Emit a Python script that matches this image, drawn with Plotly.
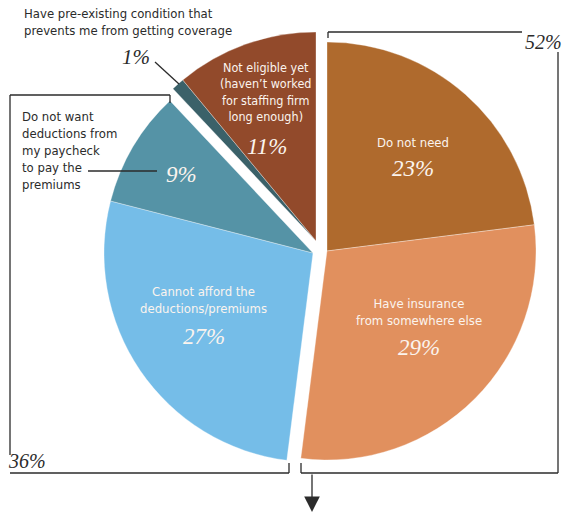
import plotly.graph_objects as go

# Reasons for not taking staffing-firm health coverage (share of respondents, %)
categories = [
    "Do not need",
    "Have insurance<br>from somewhere else",
    "Cannot afford the<br>deductions/premiums",
    "Do not want deductions",
    "Have pre-existing condition",
    "Not eligible yet<br>(haven\u2019t worked<br>for staffing firm<br>long enough)",
]
values = [23, 29, 27, 9, 1, 11]
colors = ["#AF6A2D", "#E1905E", "#75BDE8", "#5593A6", "#3B6169", "#924A2B"]

# slice groups that are pulled apart from each other
groups = [[0, 1], [2, 3], [4, 5]]
group_totals = [sum(values[i] for i in g) for g in groups]

W, H = 569, 513
SANS = "Liberation Sans Narrow, DejaVu Sans Condensed, Arial Narrow, sans-serif"
SERIF = "Liberation Serif, Times New Roman, serif"
INK = "#2b2b2b"
TXT = "#FBF4EE"


def px(x):
    return x / W


def py(y):
    return 1 - y / H


# pie centre (pixels) and radius for each pulled-apart group
centres = [(327, 251), (313, 253), (316, 241)]
R = 209

fig = go.Figure()
for g, (cx, cy) in zip(groups, centres):
    fill = [colors[i] if i in g else "rgba(0,0,0,0)" for i in range(len(values))]
    lw = [0.6 if i in g else 0 for i in range(len(values))]
    fig.add_trace(go.Pie(
        values=values,
        labels=categories,
        sort=False,
        direction="clockwise",
        rotation=0,
        marker=dict(colors=fill, line=dict(color="rgba(255,255,255,0.55)", width=lw)),
        textinfo="none",
        hoverinfo="skip",
        showlegend=False,
        domain=dict(x=[px(cx - R), px(cx + R)], y=[py(cy + R), py(cy - R)]),
    ))

ann = []


def label(x, y, text, size=13, color=TXT, font=SANS, xanchor="center", align="center"):
    ann.append(dict(x=px(x), y=py(y), xref="paper", yref="paper", text=text,
                    showarrow=False, xanchor=xanchor, yanchor="middle", align=align,
                    font=dict(family=font, size=size, color=color)))


def pct(x, y, v, size=23, color=TXT):
    label(x, y, f"<i>{v}%</i>", size=size, color=color, font=SERIF)


# in-slice category names and shares
label(413, 143, categories[0])
pct(413, 168, values[0])
label(419, 312, categories[1])
pct(419, 347, values[1])
label(203, 300, categories[2])
pct(204, 336, values[2])
label(266, 92, categories[5], size=12.5)
pct(267, 146, values[5])
pct(181, 175, values[3])

# outside labels
label(22, 22, "Have pre-existing condition that<br>prevents me from getting coverage",
      color=INK, xanchor="left", align="left")
pct(136, 57, values[4], size=21, color=INK)
label(20, 151, "Do not want<br>deductions from<br>my paycheck<br>to pay the<br>premiums",
      color=INK, xanchor="left", align="left")

# group totals beside the brackets
pct(543, 42, group_totals[0], size=20, color=INK)
pct(27, 461, group_totals[1], size=20, color=INK)

# downward arrow below the brackets
ann.append(dict(x=px(312), y=py(512), xref="paper", yref="paper", text="",
                showarrow=True, ax=0, ay=-39, arrowhead=2, arrowsize=2.4,
                arrowwidth=1.3, arrowcolor=INK))

segments = [
    # 52% bracket
    ((328, 38), (328, 32)), ((328, 32), (522, 32)), ((558, 52), (558, 473)),
    ((558, 473), (301, 473)), ((301, 473), (301, 463)),
    # 36% bracket
    ((170, 103), (170, 95)), ((170, 95), (10, 95)), ((10, 95), (10, 455)),
    ((10, 473), (289, 473)), ((289, 473), (289, 463)),
    # leader lines
    ((155, 62), (179, 84)), ((88, 171), (157, 171)),
]
shapes = [dict(type="line", xref="paper", yref="paper",
               x0=px(a[0]), y0=py(a[1]), x1=px(b[0]), y1=py(b[1]),
               line=dict(color=INK, width=1.3)) for a, b in segments]

fig.update_layout(
    width=W, height=H,
    margin=dict(l=0, r=0, t=0, b=0),
    paper_bgcolor="white", plot_bgcolor="white",
    annotations=ann, shapes=shapes,
)

fig.write_html("out.html")
